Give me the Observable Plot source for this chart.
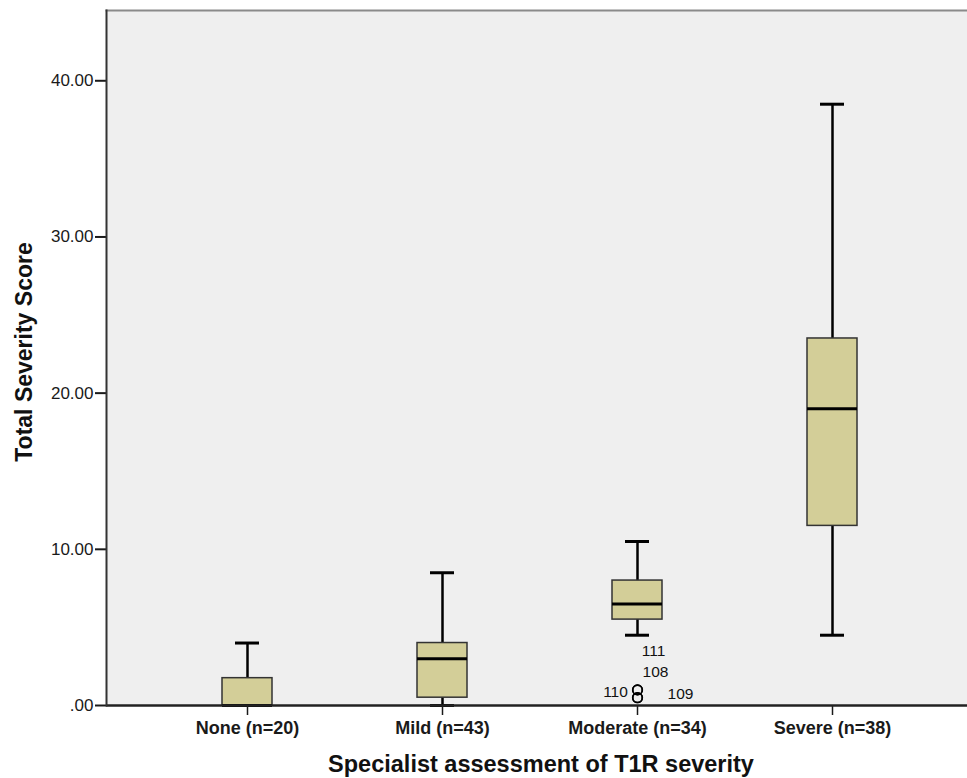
<!DOCTYPE html>
<html><head><meta charset="utf-8">
<script src="https://cdn.jsdelivr.net/npm/d3@7"></script>
<script src="https://cdn.jsdelivr.net/npm/@observablehq/plot@0.6"></script>
<style>html,body{margin:0;padding:0;background:#fff}</style>
</head><body><div id="chart"></div>
<script>
const categories = ["None (n=20)", "Mild (n=43)", "Moderate (n=34)", "Severe (n=38)"];
const whiskerLow = [0, 0, 4.5, 4.5];
const q1 = [0, 0.5, 5.5, 11.5];
const median = [0, 3, 6.5, 19];
const q3 = [1.75, 4, 8, 23.5];
const whiskerHigh = [4, 8.5, 10.5, 38.5];

const outlierCategory = "Moderate (n=34)";
const outlierIds = ["111", "108", "110", "109"];
const outlierValues = [1.0, 1.0, 0.5, 0.5];
// label offsets (style only), in pixels
const labelDx = [16, 18, -22, 43];
const labelDy = [-39, -18, -6, -4];

const yTicks = [0, 10, 20, 30, 40];
const xTitle = "Specialist assessment of T1R severity";
const yTitle = "Total Severity Score";

const rows = categories.map((c, i) => ({cat: c, low: whiskerLow[i], q1: q1[i], med: median[i], q3: q3[i], high: whiskerHigh[i]}));
const outliers = outlierIds.map((id, i) => ({cat: outlierCategory, id, v: outlierValues[i]}));

const fmt = d => d === 0 ? ".00" : d.toFixed(2);

const labelMarks = outliers.map((o, i) => Plot.text([o], {
  x: "cat", y: "v", text: "id", dx: labelDx[i], dy: labelDy[i],
  fontSize: 15.5, fill: "#111"
}));

const chart = Plot.plot({
  width: 967, height: 778,
  marginLeft: 106, marginTop: 10, marginRight: 0, marginBottom: 73,
  style: {fontFamily: "'Liberation Sans', Arial, sans-serif", background: "#fff", color: "#1a1a1a"},
  x: {type: "band", domain: categories, paddingInner: 0.744, paddingOuter: 0.577, align: 0.515},
  y: {domain: [0, 44.5]},
  marks: [
    Plot.frame({fill: "#efefef", stroke: null}),
    Plot.frame({anchor: "top", stroke: "#8a8a8a", strokeWidth: 2}),
    Plot.ruleX(rows, {x: "cat", y1: "low", y2: "high", stroke: "#000", strokeWidth: 2.5}),
    Plot.tickY(rows, {x: "cat", y: "low", stroke: "#000", strokeWidth: 3, insetLeft: 13, insetRight: 13}),
    Plot.tickY(rows, {x: "cat", y: "high", stroke: "#000", strokeWidth: 3, insetLeft: 13, insetRight: 13}),
    Plot.barY(rows, {x: "cat", y1: "q1", y2: "q3", fill: "#d3ce98", stroke: "#333", strokeWidth: 1.5}),
    Plot.tickY(rows, {x: "cat", y: "med", stroke: "#000", strokeWidth: 3}),
    Plot.dot(outliers, {x: "cat", y: "v", r: 4.8, stroke: "#000", strokeWidth: 1.6, fill: "none"}),
    ...labelMarks,
    Plot.axisY({ticks: yTicks, tickFormat: fmt, tickSize: 11, tickPadding: 2, fontSize: 17, strokeWidth: 2, label: null}),
    Plot.axisX({tickSize: 10, tickPadding: 6, fontSize: 18, fontWeight: "bold", strokeWidth: 1.5, label: null}),
    Plot.ruleY([0], {stroke: "#222", strokeWidth: 2.5}),
    Plot.frame({anchor: "left", stroke: "#333", strokeWidth: 2}),
    Plot.text([xTitle], {frameAnchor: "bottom", dx: 4, dy: 66, fontSize: 23.5, fontWeight: "bold", fill: "#111"}),
    Plot.text([yTitle], {frameAnchor: "left", textAnchor: "middle", dx: -82, dy: -6, rotate: -90, fontSize: 23, fontWeight: "bold", fill: "#111"})
  ]
});
document.getElementById("chart").appendChild(chart);
</script>
</body></html>
